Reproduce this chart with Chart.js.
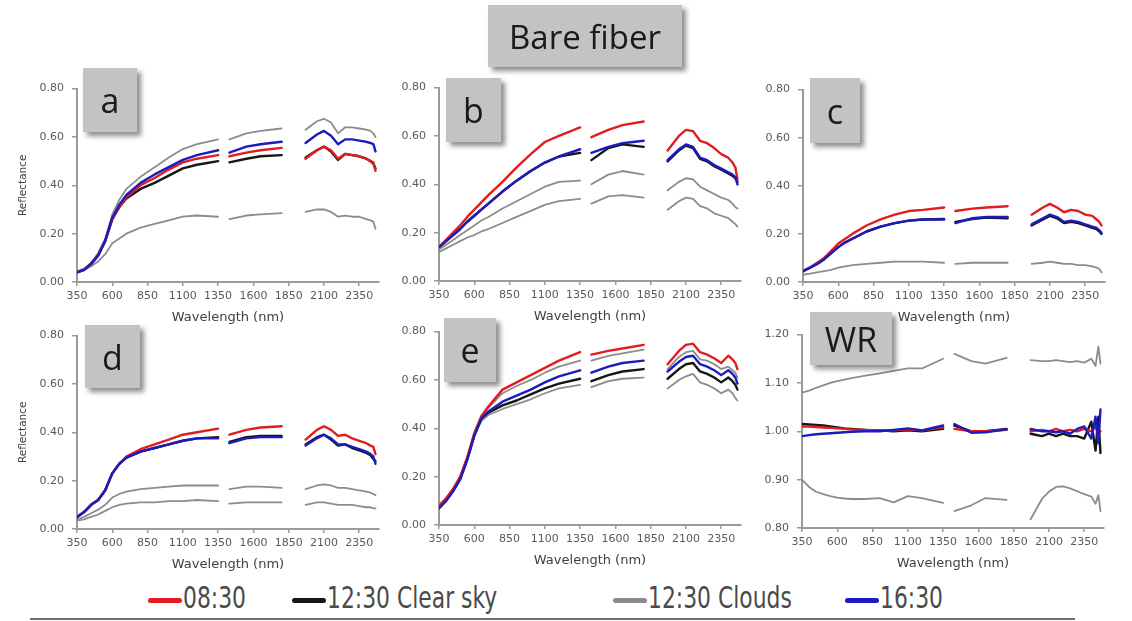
<!DOCTYPE html>
<html>
<head>
<meta charset="utf-8">
<script src="https://cdn.jsdelivr.net/npm/chart.js@4.4.1/dist/chart.umd.min.js"></script>
<style>
  body { margin: 0; background: #fff; width: 1132px; height: 621px; overflow: hidden; position: relative; }
  .panel { position: absolute; }
  .tag {
    position: absolute; z-index: 2; background: #c3c3c3; color: #1a1a1a;
    box-shadow: 4px 4px 5px rgba(0,0,0,0.45);
    display: flex; align-items: center; justify-content: center;
    font-family: "Open Sans", sans-serif; font-size: 34px;
  }
  .legend-item {
    position: absolute; top: 577px; height: 40px; display: flex; align-items: center;
    font-family: "DejaVu Sans Condensed", "Liberation Sans", sans-serif;
    font-size: 30px; color: #4a4a4a; white-space: nowrap;
  }
  .legend-item .txt { display: inline-block; transform: scaleX(0.81); transform-origin: left center; }
  .swatch { display: inline-block; width: 34px; height: 5px; border-radius: 3px; margin-right: 1px; position: relative; top: 3px; }
  .rule { position: absolute; left: 30px; top: 618px; width: 1045px; height: 2px; background: #707070; }
</style>
</head>
<body>

<div class="tag" style="left:488px; top:5px; width:194px; height:62px; font-size:33px;">Bare fiber</div>
<div id="legend"></div>
<div class="rule"></div>

<script>
// wavelength grid (nm); the 1390 and 1890 entries are the removed water bands
const wavelengths = [350,400,450,500,550,600,650,700,800,900,1000,1100,1200,1350,1390,
                     1430,1550,1650,1800,1890,
                     1970,2050,2100,2150,2200,2250,2300,2350,2400,2430,2450,2465];
const xTickLabels = [350,600,850,1100,1350,1600,1850,2100,2350];
const reflTicks = [0, 0.2, 0.4, 0.6, 0.8];
const ratioTicks = [0.8, 0.9, 1.0, 1.1, 1.2];
const seriesNames = ['08:30', '12:30 Clear sky', '12:30 Clouds', '16:30'];

// a
const aRed      = [.04,.05,.075,.11,.17,.26,.31,.35,.40,.43,.465,.495,.51,.525,null,.52,.535,.545,.555,null,.51,.545,.56,.545,.51,.53,.525,.52,.51,.50,.495,.46];
const aBlack    = [.04,.05,.075,.11,.17,.26,.31,.345,.385,.41,.44,.47,.485,.50,null,.495,.51,.52,.525,null,.515,.545,.56,.54,.505,.53,.525,.52,.51,.50,.49,.47];
const aBlue     = [.04,.05,.075,.11,.17,.265,.32,.36,.41,.445,.475,.505,.525,.545,null,.535,.56,.57,.58,null,.575,.61,.625,.605,.57,.59,.59,.585,.58,.575,.57,.54];
const aGrayHigh = [.045,.055,.08,.12,.18,.28,.34,.385,.435,.475,.515,.55,.57,.59,null,.59,.615,.625,.635,null,.63,.665,.675,.66,.615,.64,.64,.635,.63,.625,.615,.60];
const aGrayLow  = [.04,.05,.065,.085,.115,.16,.18,.20,.225,.24,.255,.27,.275,.27,null,.26,.275,.28,.285,null,.29,.30,.30,.29,.27,.275,.27,.27,.26,.255,.25,.22];

// b
const bRed      = [.14,.17,.20,.23,.265,.295,.325,.355,.41,.47,.525,.575,.60,.635,null,.595,.625,.645,.66,null,.54,.60,.625,.62,.58,.57,.55,.525,.51,.49,.47,.42];
const bBlue     = [.14,.165,.19,.215,.245,.27,.295,.32,.37,.415,.455,.49,.515,.545,null,.53,.555,.57,.58,null,.50,.545,.565,.555,.51,.50,.48,.465,.45,.44,.43,.40];
const bBlack    = [.14,.165,.19,.215,.245,.27,.295,.32,.37,.415,.455,.49,.515,.53,null,.50,.55,.565,.555,null,.495,.54,.56,.55,.505,.495,.475,.46,.445,.435,.425,.41];
const bGrayHigh = [.13,.15,.17,.19,.21,.23,.25,.265,.30,.33,.36,.39,.41,.415,null,.40,.44,.455,.44,null,.375,.41,.425,.42,.39,.375,.36,.345,.335,.32,.305,.30];
const bGrayLow  = [.12,.135,.15,.165,.18,.19,.205,.215,.24,.265,.29,.315,.33,.34,null,.32,.35,.355,.345,null,.295,.33,.345,.34,.31,.30,.28,.27,.26,.245,.235,.225];

// c
const cRed   = [.045,.06,.08,.10,.13,.16,.18,.20,.235,.26,.28,.295,.30,.31,null,.295,.305,.31,.315,null,.28,.31,.325,.31,.29,.30,.295,.28,.275,.26,.25,.235];
const cBlue  = [.045,.06,.075,.095,.12,.145,.165,.18,.21,.23,.245,.255,.26,.26,null,.245,.265,.27,.27,null,.24,.265,.28,.27,.25,.255,.25,.24,.23,.225,.215,.205];
const cBlack = [.045,.06,.075,.095,.12,.145,.165,.18,.21,.23,.245,.255,.26,.262,null,.25,.262,.268,.265,null,.235,.26,.275,.265,.245,.25,.245,.235,.225,.22,.21,.20];
const cGray  = [.03,.035,.04,.045,.05,.06,.065,.07,.075,.08,.085,.085,.085,.08,null,.075,.08,.08,.08,null,.075,.08,.085,.08,.075,.075,.07,.07,.065,.06,.055,.04];

// d
const dRed      = [.05,.07,.10,.12,.16,.23,.27,.30,.33,.35,.37,.39,.40,.415,null,.39,.41,.42,.425,null,.37,.41,.425,.41,.385,.39,.375,.365,.355,.345,.34,.31];
const dBlue     = [.05,.07,.10,.12,.16,.23,.27,.295,.32,.335,.35,.365,.375,.375,null,.355,.375,.38,.38,null,.345,.375,.39,.375,.35,.35,.34,.33,.32,.31,.30,.27];
const dBlack    = [.05,.07,.10,.12,.16,.23,.27,.295,.32,.335,.35,.365,.375,.38,null,.36,.38,.385,.385,null,.35,.38,.39,.37,.345,.35,.335,.325,.315,.305,.29,.28];
const dGrayHigh = [.04,.05,.065,.08,.10,.13,.145,.155,.165,.17,.175,.18,.18,.18,null,.165,.175,.175,.17,null,.165,.18,.185,.18,.17,.17,.165,.16,.155,.15,.145,.14];
const dGrayLow  = [.035,.04,.05,.06,.075,.09,.10,.105,.11,.11,.115,.115,.12,.115,null,.105,.11,.11,.11,null,.10,.11,.11,.105,.10,.10,.10,.095,.09,.09,.085,.085];

// e
const eRed      = [.08,.11,.15,.20,.28,.38,.45,.49,.56,.59,.62,.65,.68,.715,null,.705,.72,.73,.745,null,.665,.72,.745,.75,.715,.705,.69,.67,.70,.685,.67,.645];
const eGrayHigh = [.08,.11,.15,.20,.28,.38,.45,.485,.545,.575,.60,.63,.655,.68,null,.68,.70,.71,.725,null,.645,.695,.715,.72,.685,.68,.665,.645,.655,.64,.63,.61];
const eBlue     = [.07,.10,.14,.19,.27,.37,.44,.47,.51,.535,.56,.59,.615,.64,null,.63,.655,.67,.68,null,.635,.675,.695,.70,.665,.655,.64,.62,.64,.625,.61,.585];
const eBlack    = [.07,.10,.14,.19,.27,.37,.44,.465,.495,.515,.54,.565,.585,.605,null,.595,.62,.635,.645,null,.605,.645,.665,.67,.635,.625,.61,.59,.61,.595,.58,.56];
const eGrayLow  = [.07,.10,.14,.19,.27,.37,.43,.455,.48,.50,.52,.545,.565,.58,null,.57,.595,.605,.61,null,.565,.60,.615,.625,.59,.58,.565,.545,.56,.545,.525,.515];

// WR
const wrRed      = [1.01,1.01,1.009,1.008,1.007,1.006,1.005,1.004,1.003,1.002,1.002,1.004,1.002,1.008,null,1.005,1.0,1.0,1.003,null,1.0,1.003,1.0,1.005,1.0,1.003,1.0,1.005,1.0,1.01,0.995,1.0];
const wrBlack    = [1.015,1.014,1.013,1.012,1.01,1.008,1.006,1.005,1.003,1.002,1.0,1.002,1.0,1.005,null,1.012,1.0,1.0,1.005,null,0.995,0.99,0.995,0.99,0.995,0.99,0.99,0.985,1.02,0.96,1.03,0.955];
const wrBlue     = [0.99,0.992,0.994,0.995,0.996,0.997,0.998,0.999,1.0,1.0,1.003,1.006,1.002,1.012,null,1.015,0.997,0.998,1.004,null,1.005,1.0,1.0,0.998,1.0,0.995,1.005,1.01,0.985,1.03,0.975,1.045];
const wrGrayHigh = [1.08,1.084,1.09,1.095,1.10,1.104,1.107,1.11,1.115,1.12,1.125,1.13,1.13,1.15,null,1.16,1.145,1.14,1.152,null,1.147,1.145,1.145,1.147,1.145,1.143,1.145,1.142,1.15,1.135,1.175,1.14];
const wrGrayLow  = [.90,.885,.875,.87,.866,.863,.861,.86,.86,.862,.853,.866,.862,.852,null,.835,.847,.862,.858,null,.818,.86,.875,.885,.886,.882,.876,.87,.865,.85,.868,.835];

const colors = {
  '08:30': 'rgb(226,28,33)',
  '12:30 Clear sky': 'rgb(22,22,22)',
  '12:30 Clouds': 'rgb(140,140,140)',
  '16:30': 'rgb(28,28,190)'
};
const drawOrder = { '16:30': 0, '08:30': 1, '12:30 Clear sky': 2, '12:30 Clouds': 3 };

// layout
const AXW = 66, PT = 12, PR = 14, AXH = 44, PW = 302;
const axisColor = '#9a9a9a';
const tickFont = { family: 'DejaVu Sans', size: 11 };

const panels = [
  { tag: 'a',  left: 77,  top: 86,  bottom: 282, ticks: reflTicks, yTitle: true,
    tagBox: [83, 68, 54, 64],
    lines: [['16:30', aBlue], ['08:30', aRed], ['12:30 Clear sky', aBlack], ['12:30 Clouds', aGrayHigh], ['12:30 Clouds', aGrayLow]] },
  { tag: 'b',  left: 439, top: 85,  bottom: 281, ticks: reflTicks, yTitle: false,
    tagBox: [446, 78, 55, 64],
    lines: [['16:30', bBlue], ['08:30', bRed], ['12:30 Clear sky', bBlack], ['12:30 Clouds', bGrayHigh], ['12:30 Clouds', bGrayLow]] },
  { tag: 'c',  left: 803, top: 87,  bottom: 282, ticks: reflTicks, yTitle: false,
    tagBox: [810, 78, 50, 65],
    lines: [['16:30', cBlue], ['08:30', cRed], ['12:30 Clear sky', cBlack], ['12:30 Clouds', cGray]] },
  { tag: 'd',  left: 77,  top: 333, bottom: 529, ticks: reflTicks, yTitle: true,
    tagBox: [85, 325, 55, 63],
    lines: [['16:30', dBlue], ['08:30', dRed], ['12:30 Clear sky', dBlack], ['12:30 Clouds', dGrayHigh], ['12:30 Clouds', dGrayLow]] },
  { tag: 'e',  left: 439, top: 329, bottom: 525, ticks: reflTicks, yTitle: false,
    tagBox: [444, 318, 52, 64],
    lines: [['16:30', eBlue], ['08:30', eRed], ['12:30 Clear sky', eBlack], ['12:30 Clouds', eGrayHigh], ['12:30 Clouds', eGrayLow]] },
  { tag: 'WR', left: 802, top: 332, bottom: 528, ticks: ratioTicks, yTitle: false,
    tagBox: [810, 312, 82, 53],
    lines: [['16:30', wrBlue], ['08:30', wrRed], ['12:30 Clear sky', wrBlack], ['12:30 Clouds', wrGrayHigh], ['12:30 Clouds', wrGrayLow]] }
];

function makePanel(p) {
  const wrap = document.createElement('div');
  wrap.className = 'panel';
  const w = AXW + PW + PR, h = PT + (p.bottom - p.top) + AXH;
  wrap.style.left = (p.left - AXW) + 'px';
  wrap.style.top = (p.top - PT) + 'px';
  const cv = document.createElement('canvas');
  cv.width = w; cv.height = h;
  wrap.appendChild(cv);
  document.body.appendChild(wrap);

  const tag = document.createElement('div');
  tag.className = 'tag';
  tag.textContent = p.tag;
  const [tx, ty, tw, th] = p.tagBox;
  Object.assign(tag.style, { left: tx + 'px', top: ty + 'px', width: tw + 'px', height: th + 'px' });
  document.body.appendChild(tag);

  new Chart(cv, {
    type: 'line',
    data: {
      datasets: p.lines.map(([name, vals]) => ({
        label: name,
        data: wavelengths.map((x, i) => ({ x: x, y: vals[i] })),
        borderColor: colors[name],
        borderWidth: name === '12:30 Clouds' ? 1.8 : 2.4,
        order: drawOrder[name],
        spanGaps: false
      }))
    },
    options: {
      responsive: false,
      animation: false,
      events: [],
      layout: { autoPadding: false, padding: { top: PT, right: PR, bottom: 0, left: 0 } },
      plugins: { legend: { display: false }, tooltip: { enabled: false } },
      elements: { point: { radius: 0 }, line: { tension: 0, borderJoinStyle: 'round', borderCapStyle: 'round' } },
      scales: {
        x: {
          type: 'linear', min: 350, max: 2490,
          afterBuildTicks: s => { s.ticks = xTickLabels.map(v => ({ value: v })); },
          afterFit: s => { s.height = AXH; },
          ticks: { autoSkip: false, maxRotation: 0, padding: 4, color: '#595959', font: tickFont, callback: v => String(v) },
          grid: { drawOnChartArea: false, tickLength: 4, color: axisColor, lineWidth: 1.5 },
          border: { color: axisColor, width: 2 },
          title: { display: true, text: 'Wavelength (nm)', color: '#404040',
                   font: { family: 'DejaVu Sans', size: 13 }, padding: { top: 0, bottom: 1 } }
        },
        y: {
          min: p.ticks[0], max: p.ticks[p.ticks.length - 1],
          afterBuildTicks: s => { s.ticks = p.ticks.map(v => ({ value: v })); },
          afterFit: s => { s.width = AXW; },
          ticks: { padding: 8, color: '#595959', font: tickFont, callback: v => v.toFixed(2) },
          grid: { drawOnChartArea: false, tickLength: 5, color: axisColor, lineWidth: 1.5 },
          border: { color: axisColor, width: 2 },
          title: { display: p.yTitle, text: 'Reflectance', color: '#404040',
                   font: { family: 'DejaVu Sans', size: 10.5 }, padding: { top: 6, bottom: 0 } }
        }
      }
    }
  });
}

panels.forEach(makePanel);

// shared legend for the figure
const legendPos = [148, 292, 613, 845];
const legend = document.getElementById('legend');
seriesNames.forEach((name, i) => {
  const item = document.createElement('div');
  item.className = 'legend-item';
  item.style.left = legendPos[i] + 'px';
  const sw = document.createElement('span');
  sw.className = 'swatch';
  sw.style.background = colors[name];
  const txt = document.createElement('span');
  txt.className = 'txt';
  txt.textContent = name;
  item.appendChild(sw);
  item.appendChild(txt);
  legend.appendChild(item);
});
</script>
</body>
</html>
